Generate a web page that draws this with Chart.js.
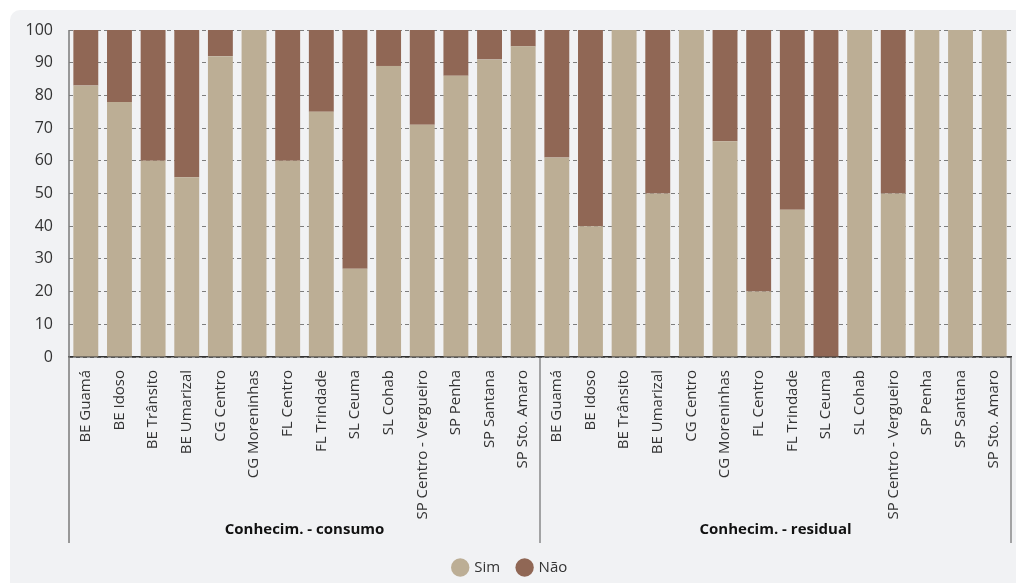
<!DOCTYPE html>
<html>
<head>
<meta charset="utf-8">
<script src="https://cdn.jsdelivr.net/npm/chart.js@4"></script>
<style>
  html, body { margin: 0; padding: 0; background: #fff; overflow: hidden; }
  #box { position: absolute; left: 10px; top: 10px; width: 1006px; height: 575px;
         background: #f1f2f4; border-radius: 10px 0 0 0; }
</style>
</head>
<body>
<div id="box"><canvas id="myChart" width="1006" height="575"></canvas></div>
<script>
// categories (repeated for the two groups)
var sites = ['BE Guamá','BE Idoso','BE Trânsito','BE Umarizal','CG Centro','CG Moreninhas','FL Centro',
             'FL Trindade','SL Ceuma','SL Cohab','SP Centro - Vergueiro','SP Penha','SP Santana','SP Sto. Amaro'];
var groups = ['Conhecim. - consumo', 'Conhecim. - residual'];
var labels = sites.concat(sites);

// values in %
var sim = [83, 78, 60, 55, 92, 100, 60, 75, 27, 89, 71, 86, 91, 95,
           61, 40, 100, 50, 100, 66, 20, 45, 0, 100, 50, 100, 100, 100];
var nao = [17, 22, 40, 45, 8, 0, 40, 25, 73, 11, 29, 14, 9, 5,
           39, 60, 0, 50, 0, 34, 80, 55, 100, 0, 50, 0, 0, 0];
var yTicks = [0, 10, 20, 30, 40, 50, 60, 70, 80, 90, 100];

var FONT = "'Open Sans', sans-serif";
var AXIS_H = 185;   // height of the x axis box
var LINE_H = 186;   // how far the group separators run below the axis

// group labels + separator lines under the axis
const groupAxis = {
  id: 'groupAxis',
  afterDraw(chart) {
    const ctx = chart.ctx, x = chart.scales.x, area = chart.chartArea;
    const y0 = area.bottom, y1 = area.bottom + LINE_H;
    const mid = (x.getPixelForValue(13) + x.getPixelForValue(14)) / 2;
    ctx.save();
    ctx.lineWidth = 1.5;
    ctx.strokeStyle = '#7a7a7a';
    ctx.beginPath();
    ctx.moveTo(area.left, area.top); ctx.lineTo(area.left, y1);
    ctx.stroke();
    ctx.strokeStyle = '#555';
    ctx.lineWidth = 1;
    ctx.beginPath();
    ctx.moveTo(mid, y0); ctx.lineTo(mid, y1);
    ctx.moveTo(area.right, y0); ctx.lineTo(area.right, y1);
    ctx.stroke();
    ctx.fillStyle = '#111';
    ctx.font = 'bold 15px ' + FONT;
    ctx.textAlign = 'center';
    ctx.textBaseline = 'middle';
    ctx.fillText(groups[0], (area.left + mid) / 2, y1 - 13);
    ctx.fillText(groups[1], (mid + area.right) / 2, y1 - 13);
    ctx.restore();
  }
};

var chartEl = document.getElementById('myChart');
const bars = new Chart(chartEl, {
  type: 'bar',
  data: {
    labels: labels,
    datasets: [{
      label: 'Sim',
      data: sim,
      backgroundColor: 'rgb(188, 174, 149)',
      barPercentage: 0.74,
      categoryPercentage: 1
    }, {
      label: 'Não',
      data: nao,
      backgroundColor: 'rgb(144, 103, 85)',
      barPercentage: 0.74,
      categoryPercentage: 1
    }]
  },
  options: {
    responsive: false,
    animation: false,
    layout: { padding: { top: 20, right: 5, left: 0, bottom: 0 } },
    plugins: {
      tooltip: { enabled: false },
      legend: {
        position: 'bottom',
        labels: {
          usePointStyle: true,
          pointStyle: 'circle',
          boxHeight: 13,
          boxWidth: 13,
          padding: 18,
          color: '#333',
          font: { family: FONT, size: 15 }
        }
      }
    },
    scales: {
      x: {
        stacked: true,
        grid: { display: false },
        border: { display: true, color: '#333', width: 1.5 },
        ticks: {
          autoSkip: false,
          minRotation: 90,
          maxRotation: 90,
          padding: 5,
          color: '#333',
          font: { family: FONT, size: 15 }
        },
        afterFit(scale) {
          scale.height = AXIS_H;
          scale.paddingTop = 0;
          scale.paddingBottom = 0;
          scale.paddingLeft = 0;
          scale.paddingRight = 0;
        }
      },
      y: {
        stacked: true,
        min: 0,
        max: 100,
        z: 1,
        afterBuildTicks(scale) { scale.ticks = yTicks.map(v => ({ value: v })); },
        afterFit(scale) {
          scale.width = 59;
          scale.paddingTop = 0;
          scale.paddingBottom = 0;
        },
        grid: { color: 'rgba(85, 85, 85, 0.75)', lineWidth: 1, drawTicks: false },
        border: { display: false, dash: [4, 3] },
        ticks: {
          padding: 16,
          color: '#333',
          font: { family: FONT, size: 16 }
        }
      }
    }
  },
  plugins: [groupAxis]
});
</script>
</body>
</html>
